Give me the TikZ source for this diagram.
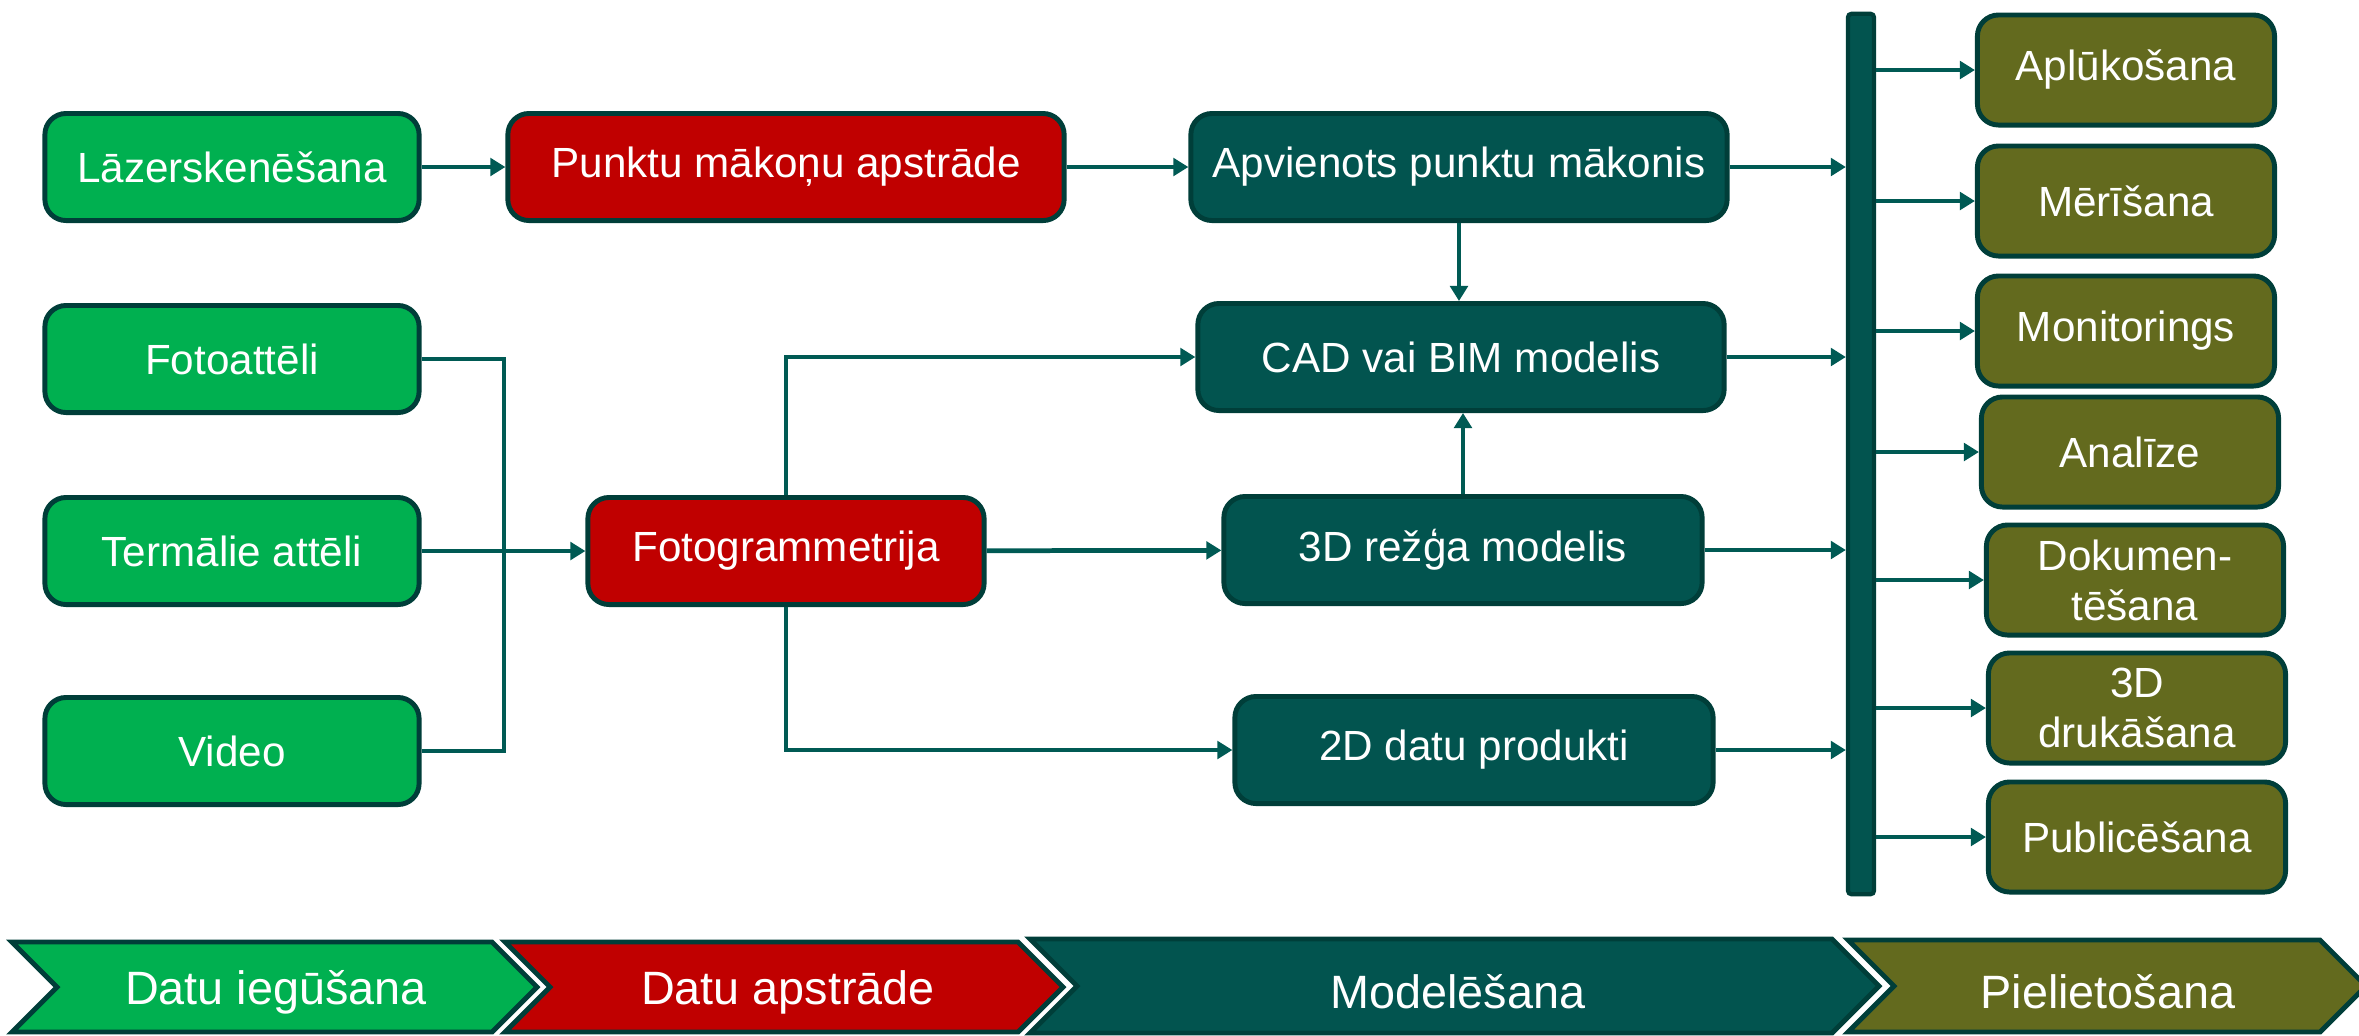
\documentclass[tikz,border=0pt]{standalone}
\usepackage{fontspec}
\setmainfont{Liberation Sans}
\usetikzlibrary{arrows.meta}
\definecolor{acqgreen}{HTML}{00B050}
\definecolor{procred}{HTML}{C00000}
\definecolor{modelteal}{HTML}{02544F}
\definecolor{useolive}{HTML}{636A1E}
\definecolor{edgedark}{HTML}{003E39}
\definecolor{linkteal}{HTML}{005A54}
\begin{document}
\begin{tikzpicture}[x=0.01cm,y=-0.01cm,
    box/.style={draw=edgedark,line width=1.4pt,rounded corners=6pt,text=white,align=center,inner sep=0pt,
                font=\fontsize{12}{14.2}\selectfont,minimum height=1.07cm},
    usebox/.style={box,fill=useolive,minimum width=2.97cm,minimum height=1.1cm},
    conn/.style={draw=linkteal,line width=1.35pt},
    arr/.style={conn,-{Triangle[length=4.3pt,width=5pt]}},
    stage/.style={draw=edgedark,line width=1.4pt,line join=miter},
    stagetext/.style={text=white,font=\fontsize{13.3}{16}\selectfont}]
  \useasboundingbox (0,0) rectangle (2359,1035);
  % sources
  \node[box,fill=acqgreen,minimum width=3.74cm] (laser) at (232,167) {Lāzerskenēšana};
  \node[box,fill=acqgreen,minimum width=3.74cm] (photos) at (232,359) {Fotoattēli};
  \node[box,fill=acqgreen,minimum width=3.74cm] (thermal) at (232,551) {Termālie attēli};
  \node[box,fill=acqgreen,minimum width=3.74cm] (video) at (232,751) {Video};
  % processing
  \node[box,fill=procred,minimum width=5.56cm] (cloudproc) at (786,167) {Punktu mākoņu apstrāde};
  \node[box,fill=procred,minimum width=3.96cm] (photogr) at (786,551) {Fotogrammetrija};
  % models
  \node[box,fill=modelteal,minimum width=5.36cm] (merged) at (1459,167) {Apvienots punktu mākonis};
  \node[box,fill=modelteal,minimum width=5.26cm] (cad) at (1461,357) {CAD vai BIM modelis};
  \node[box,fill=modelteal,minimum width=4.78cm] (mesh) at (1463,550) {3D režģa modelis};
  \node[box,fill=modelteal,minimum width=4.78cm] (prod2d) at (1474,750) {2D datu produkti};
  \node[draw=edgedark,fill=modelteal,line width=1.2pt,inner sep=0pt,minimum width=0.26cm,minimum height=8.8cm,rounded corners=1pt] (bar) at (1861,454) {};
  % uses
  \node[usebox] (view) at (2126,70) {Aplūkošana};
  \node[usebox] (measure) at (2126,201) {Mērīšana};
  \node[usebox] (monitor) at (2126,331) {Monitorings};
  \node[usebox] (analysis) at (2130,452) {Analīze};
  \node[usebox] (docu) at (2135,580) {Dokumen-\\tēšana};
  \node[usebox] (print) at (2137,708) {3D\\drukāšana};
  \node[usebox] (publish) at (2137,837) {Publicēšana};
  \coordinate (bus) at (504,551);

  \draw[arr] (laser) -- (cloudproc);
  \draw[arr] (cloudproc) -- (merged);
  \draw[conn] (photos.east) -| (bus) |- (video.east);
  \draw[arr] (thermal) -- (photogr);
  \draw[arr] (photogr.north) |- (cad.west);
  \draw[arr] (photogr) -- (mesh);
  \draw[arr] (photogr.south) |- (prod2d.west);
  \draw[arr] (merged.south) -- (merged.south |- cad.north);
  \draw[arr] (mesh.north) -- (mesh.north |- cad.south);
  \draw[arr] (merged.east) -- (merged.east -| bar.west);
  \draw[arr] (cad.east) -- (cad.east -| bar.west);
  \draw[arr] (mesh.east) -- (mesh.east -| bar.west);
  \draw[arr] (prod2d.east) -- (prod2d.east -| bar.west);
  \draw[arr] (bar.east |- view.west) -- (view.west);
  \draw[arr] (bar.east |- measure.west) -- (measure.west);
  \draw[arr] (bar.east |- monitor.west) -- (monitor.west);
  \draw[arr] (bar.east |- analysis.west) -- (analysis.west);
  \draw[arr] (bar.east |- docu.west) -- (docu.west);
  \draw[arr] (bar.east |- print.west) -- (print.west);
  \draw[arr] (bar.east |- publish.west) -- (publish.west);

  % stages
  \draw[stage,fill=acqgreen] (12,942) -- (492,942) -- (537,987) -- (492,1032) -- (12,1032) -- (57,987) -- cycle;
  \draw[stage,fill=procred] (505,942) -- (1018,942) -- (1063,987) -- (1018,1032) -- (505,1032) -- (550,987) -- cycle;
  \draw[stage,fill=modelteal] (1030,939) -- (1832,939) -- (1879,986) -- (1832,1033) -- (1030,1033) -- (1077,986) -- cycle;
  \draw[stage,fill=useolive] (1848,940) -- (2320,940) -- (2366,986) -- (2320,1032) -- (1848,1032) -- (1894,986) -- cycle;
  \node[stagetext] (acqstage) at (276,992) {Datu iegūšana};
  \node[stagetext] (procstage) at (788,992) {Datu apstrāde};
  \node[stagetext] (modelstage) at (1458,992) {Modelēšana};
  \node[stagetext] (usestage) at (2108,992) {Pielietošana};
\end{tikzpicture}
\end{document}
